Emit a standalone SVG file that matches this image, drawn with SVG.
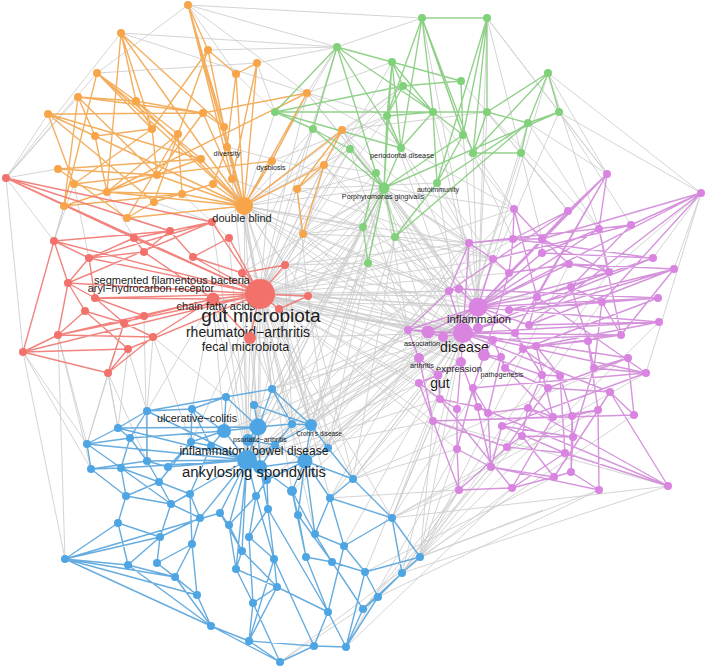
<svg xmlns="http://www.w3.org/2000/svg" width="708" height="669" viewBox="0 0 708 669">
<style>
.gr{fill:none;stroke:#cdcdcd;stroke-width:1;opacity:.85}
.eo{fill:none;stroke:#F2A64E;stroke-width:1.4;opacity:.9}
.er{fill:none;stroke:#EF7770;stroke-width:1.4;opacity:.9}
.eg{fill:none;stroke:#86CC7E;stroke-width:1.4;opacity:.9}
.ep{fill:none;stroke:#D088D8;stroke-width:1.4;opacity:.9}
.eb{fill:none;stroke:#55A3DC;stroke-width:1.4;opacity:.9}
.co circle{fill:#F7A548}
.cr circle{fill:#F2726B}
.cg circle{fill:#80D27A}
.cp circle{fill:#D884E0}
.cb circle{fill:#4DA5E3}
text{font-family:"Liberation Sans",Arial,sans-serif;fill:#1c1c1c;text-anchor:middle}
</style>
<rect width="708" height="669" fill="#ffffff"/>
<g id="connectors">
<path class="gr" d="M260 294L478 307M260 294L463 333M260 294L428 332M260 294L443 337M260 294L419 358M260 294L438 375M260 294L449 291M260 294L408 330M260 294L493 259M260 294L469 243M260 294L484 355M260 294L461 362M260 294L440 399M260 294L433 421M260 294L247 460M260 294L258 427M260 294L224 431M260 294L260 467M260 294L305 461M260 294L248 440M260 294L272 389M260 294L311 425M260 294L328 448M260 294L353 479M260 294L384 188M260 294L376 173M260 294L350 149M260 294L363 227M260 294L395 237M260 294L368 263M260 294L387 116M260 294L392 62M260 294L337 47M260 294L244 206M260 294L224 127M260 294L227 147M260 294L272 161M260 294L307 93M260 294L342 130M260 294L324 165M260 294L297 189M260 294L303 234M260 294L514 209M260 294L513 239M260 294L509 273M260 294L537 297M260 294L292 491M260 294L392 518M260 294L315 534M260 294L493 340M260 294L419 383M260 294L457 449M260 294L292 424M260 294L191 442
M463 333L247 460M463 333L258 427M463 333L305 461M463 333L311 425M463 333L328 448M463 333L353 479M463 333L330 498M463 333L392 518M463 333L292 491M463 333L267 480M463 333L344 546M463 333L384 188M463 333L395 237M463 333L368 263M463 333L437 183M463 333L528 123M463 333L521 153M463 333L559 112M463 333L244 206M463 333L324 165M463 333L342 130M463 333L303 234M463 333L213 299M463 333L242 273M463 333L250 338M463 333L285 265M463 333L308 296M463 333L279 309M463 333L420 557M463 333L365 572M463 333L272 389M463 333L224 431M463 333L292 424M463 333L402 573
M478 307L384 188M478 307L395 237M478 307L433 112M478 307L463 135M478 307L473 153M478 307L487 112M478 307L548 73M478 307L487 18M478 307L422 18M478 307L244 206M478 307L342 130M478 307L307 93M478 307L285 265M478 307L308 296M478 307L247 460M478 307L305 461M478 307L311 425M478 307L272 389M478 307L254 405M478 307L213 299M478 307L363 227M478 307L401 148
M247 460L384 188M247 460L363 227M247 460L368 263M247 460L428 332M247 460L419 358M247 460L438 375M247 460L449 291M247 460L408 330M247 460L469 243M247 460L244 206M247 460L213 299M247 460L242 273M247 460L212 222M247 460L229 238M247 460L440 399M247 460L433 421M247 460L324 165
M244 206L337 47M244 206L275 112M244 206L313 129M244 206L350 149M244 206L376 173M244 206L384 188M244 206L363 227M244 206L387 116M244 206L403 86M244 206L469 243M244 206L449 291M244 206L408 330M244 206L493 259M244 206L272 389M244 206L311 425M244 206L328 448M244 206L285 265M244 206L308 296M244 206L428 332M244 206L258 427
M384 188L469 243M384 188L493 259M384 188L449 291M384 188L459 289M384 188L408 330M384 188L428 332M384 188L509 273M384 188L514 209M384 188L272 389M384 188L292 424M384 188L311 425M384 188L328 448M384 188L308 296M384 188L285 265M384 188L279 309M384 188L307 93M384 188L342 130M384 188L258 427M384 188L305 461
M188 5L422 18M188 5L337 47M188 5L307 93M121 33L307 93M121 33L337 47M257 63L97 73M6 178L78 97M6 178L97 73M6 178L48 114M188 5L236 74M337 47L422 18M487 18L559 112M487 18L607 174M548 73L607 174M559 112L701 193M559 112L631 225M548 73L599 229M701 193L653 258M701 193L674 269M607 174L528 123M487 112L599 229M521 153L568 211M422 18L463 135M487 18L521 153M65 559L23 352M65 559L58 335M87 444L23 352M118 428L108 373M23 352L91 469M91 469L58 335M420 557L459 490M420 557L433 421M420 557L457 449M402 573L459 490M392 518L433 421M392 518L668 486M353 479L438 375M330 498L449 291M363 609L459 490M346 647L457 449M280 662L420 557M280 662L378 597M420 557L599 490M420 557L543 510M402 573L512 488M668 486L433 421M701 193L609 272M342 130L487 112M297 189L437 183M303 234L395 237M303 234L363 227M6 178L58 169M6 178L54 241M54 241L64 206M74 184L54 241M128 349L147 411M108 373L118 428M153 337L191 442M153 337L147 411M108 373L87 444M108 373L147 461M250 338L247 460M250 338L258 427M213 299L224 431M213 299L192 409M250 338L305 461M279 309L311 425M308 296L328 448M285 265L292 424M308 296L449 291M308 296L408 330M285 265L469 243M242 273L384 188M227 147L384 188M232 179L363 227M272 161L387 116M297 189L313 129M307 93L387 116M324 165L403 86M646 373L701 193
M433 421L392 518M457 449L353 479M459 490L392 518M459 490L330 498M440 399L353 479M419 383L328 448M419 358L305 461M408 330L311 425M449 291L292 424M469 243L305 461M493 259L328 448M509 273L353 479M537 297L392 518M514 209L311 425M513 239L272 389M542 253L305 461M569 264L420 557M609 272L402 573M602 302L420 557M659 322L420 557M634 415L420 557M668 486L402 573M599 490L378 597M554 477L365 572M512 488L346 647M491 467L363 609M507 447L402 573M522 436L420 557M598 410L392 518M646 373L392 518M628 358L353 479
M395 237L469 243M395 237L449 291M368 263L408 330M368 263L449 291M363 227L428 332M437 183L469 243M437 183L493 259M463 135L514 209M473 153L513 239M521 153L542 239M528 123L599 229M559 112L607 174M487 112L568 211M401 148L469 243M433 112L514 209M387 116L449 291M350 149L408 330M376 173L459 289M548 73L701 193M461 81L568 211
M307 93L337 47M257 63L337 47M307 93L392 62M342 130L403 86M324 165L376 173M303 234L384 188M297 189L350 149M236 74L275 112M257 63L275 112M208 50L337 47M97 73L188 5M121 33L6 178
M213 299L147 411M144 316L147 461M124 323L87 444M58 335L87 444M153 337L226 397M128 349L118 428M250 338L226 397M242 273L272 389M285 265L311 425M308 296L353 479M279 309L330 498M213 299L254 405M6 178L23 352
M64 206L54 241M127 218L170 231M154 202L212 222M244 206L212 222M303 234L285 265M297 189L308 296M74 184L89 258M107 192L134 238M182 194L229 238M232 179L242 273
M342 130L469 243M324 165L449 291M303 234L408 330M297 189L493 259M307 93L514 209M363 227L308 296M368 263L285 265M350 149L285 265M313 129L242 273M368 263L311 425M363 227L272 389M395 237L328 448M395 237L353 479"/>
<path class="eo" d="M188 5L208 50M188 5L224 127M188 5L244 206M188 5L227 147M188 5L232 179M208 50L236 74M208 50L154 202M208 50L224 127M257 63L236 74M257 63L232 179M257 63L244 206M236 74L244 206M236 74L227 147M121 33L136 101M121 33L152 129M121 33L107 192M121 33L224 127M121 33L244 206M97 73L152 129M97 73L201 159M97 73L244 206M78 97L136 101M78 97L64 206M78 97L157 175M78 97L203 113M78 97L95 136M136 101L203 113M136 101L178 134M136 101L244 206M136 101L152 129M48 114L203 113M48 114L201 159M48 114L154 202M48 114L244 206M48 114L74 184M203 113L307 93M203 113L224 127M203 113L244 206M224 127L244 206M152 129L157 175M152 129L95 136M152 129L74 184M178 134L107 192M178 134L127 218M95 136L107 192M342 130L324 165M342 130L244 206M227 147L244 206M201 159L244 206M201 159L107 192M272 161L244 206M272 161L74 184M307 93L244 206M307 93L107 192M58 169L157 175M58 169L201 159M58 169L127 218M157 175L244 206M157 175L64 206M157 175L203 113M324 165L297 189M324 165L303 234M324 165L244 206M232 179L244 206M74 184L107 192M213 184L244 206M213 184L154 202M107 192L182 194M107 192L244 206M182 194L244 206M182 194L178 134M297 189L303 234M154 202L127 218M127 218L244 206M64 206L97 73M342 130L297 189M307 93L272 161M213 184L227 147M208 50L152 129M97 73L136 101M64 206L182 194"/>
<path class="er" d="M6 178L170 231M6 178L212 222M6 178L260 294M6 178L134 238M212 222L68 283M212 222L89 258M212 222L260 294M212 222L170 231M170 231L134 238M170 231L144 252M170 231L193 257M170 231L54 241M54 241L89 258M54 241L68 283M54 241L260 294M54 241L23 352M134 238L144 252M134 238L260 294M134 238L89 258M229 238L260 294M229 238L193 257M144 252L89 258M144 252L213 299M193 257L260 294M193 257L242 273M89 258L68 283M89 258L95 298M89 258L260 294M285 265L260 294M285 265L242 273M242 273L260 294M68 283L85 311M68 283L58 335M68 283L95 298M260 294L213 299M260 294L308 296M260 294L279 309M260 294L250 338M260 294L95 298M260 294L58 335M260 294L128 349M213 299L95 298M213 299L144 316M213 299L153 337M95 298L144 316M95 298L124 323M85 311L124 323M85 311L58 335M85 311L128 349M144 316L124 323M124 323L153 337M124 323L108 373M153 337L58 335M153 337L108 373M58 335L23 352M23 352L128 349M23 352L108 373M128 349L108 373M250 338L213 299M279 309L308 296M23 352L260 294M58 335L213 299M68 283L260 294"/>
<path class="eg" d="M422 18L487 18M422 18L433 112M422 18L387 116M422 18L401 148M422 18L463 135M422 18L473 153M487 18L463 135M487 18L487 112M487 18L473 153M487 18L437 183M337 47L392 62M337 47L275 112M337 47L313 129M337 47L401 148M337 47L376 173M337 47L433 112M392 62L461 81M392 62L403 86M392 62L387 116M392 62L401 148M392 62L384 188M392 62L433 112M548 73L559 112M548 73L528 123M548 73L487 112M548 73L473 153M461 81L463 135M461 81L403 86M403 86L275 112M403 86L387 116M403 86L433 112M275 112L313 129M275 112L433 112M433 112L487 112M433 112L463 135M433 112L401 148M433 112L387 116M487 112L528 123M487 112L473 153M559 112L528 123M559 112L384 188M387 116L384 188M387 116L401 148M313 129L350 149M313 129L384 188M528 123L521 153M528 123L437 183M463 135L437 183M463 135L384 188M350 149L384 188M401 148L384 188M473 153L521 153M376 173L384 188M384 188L363 227M384 188L395 237M384 188L368 263M376 173L363 227M437 183L395 237M395 237L528 123M363 227L368 263M275 112L401 148M433 112L437 183"/>
<path class="ep" d="M607 174L568 211M607 174L509 273M607 174L537 297M607 174L515 333M607 174L478 307M607 174L599 229M701 193L631 225M701 193L542 239M701 193L478 307M701 193L529 325M701 193L602 302M514 209L542 239M514 209L537 297M514 209L513 239M568 211L513 239M568 211L478 307M568 211L449 291M599 229L609 272M599 229L542 253M599 229L621 335M599 229L478 307M631 225L493 259M631 225L469 243M631 225L571 287M469 243L513 239M469 243L493 259M469 243L449 291M469 243L463 333M513 239L542 239M513 239L509 273M513 239L653 258M542 239L542 253M542 239L609 272M542 239L569 264M542 253L653 258M542 253L478 307M493 259L509 273M493 259L478 307M509 273L569 264M509 273L484 355M569 264L609 272M569 264L674 269M569 264L478 307M653 258L537 297M653 258L478 328M609 272L571 287M609 272L478 307M674 269L509 310M674 269L529 325M674 269L463 333M674 269L621 335M449 291L459 289M449 291L408 330M449 291L463 333M459 289L478 307M459 289L658 298M571 287L602 302M571 287L537 297M571 287L588 341M537 297L478 307M537 297L529 325M537 297L646 373M658 298L509 310M658 298L523 349M658 298L478 307M602 302L621 335M602 302L594 368M602 302L509 310M478 307L463 333M478 307L509 310M478 307L659 322M478 307L478 328M478 307L529 325M478 307L515 333M659 322L529 325M659 322L463 333M659 322L536 346M408 330L428 332M408 330L463 333M408 330L419 358M428 332L463 333M428 332L443 337M443 337L463 333M463 333L478 328M463 333L515 333M463 333L493 340M463 333L484 355M463 333L461 362M463 333L621 335M463 333L628 358M463 333L646 373M463 333L610 392M515 333L523 349M515 333L542 375M621 335L493 340M621 335L523 349M493 340L505 368M493 340L484 355M588 341L536 346M588 341L594 368M588 341L598 410M484 355L542 375M484 355L473 388M484 355L501 357M523 349L505 368M523 349L560 376M536 346L560 376M536 346L553 417M501 357L488 413M501 357L505 368M628 358L634 415M628 358L594 368M628 358L548 388M419 358L438 375M419 358L433 421M461 362L438 375M461 362L457 409M461 362L478 407M505 368L548 388M505 368L553 417M594 368L646 373M594 368L573 437M646 373L473 388M646 373L502 426M542 375L560 376M542 375L528 408M560 376L572 416M560 376L565 453M438 375L419 383M438 375L440 399M419 383L440 399M419 383L433 421M473 388L488 413M473 388L491 467M548 388L610 392M548 388L507 447M610 392L634 415M610 392L554 477M440 399L457 409M440 399L478 407M440 399L512 488M457 409L457 449M433 421L634 415M478 407L488 413M478 407L668 486M488 413L528 408M488 413L491 467M528 408L553 417M528 408L522 436M553 417L598 410M553 417L512 488M572 416L598 410M572 416L573 437M572 416L571 472M598 410L599 490M433 421L507 447M433 421L459 490M433 421L553 417M502 426L573 437M502 426L491 467M502 426L565 453M573 437L522 436M573 437L571 472M522 436L507 447M522 436L554 477M507 447L565 453M507 447L459 490M565 453L668 486M565 453L512 488M457 449L491 467M457 449L459 490M457 449L473 388M491 467L554 477M491 467L599 490M554 477L571 472M554 477L512 488M571 472L599 490M668 486L610 392M668 486L528 408M459 490L512 488M408 330L478 307M428 332L478 307M443 337L478 307"/>
<path class="eb" d="M272 389L226 397M272 389L292 424M272 389L247 460M272 389L311 425M226 397L147 411M226 397L224 431M226 397L258 427M226 397L192 409M254 405L258 427M254 405L311 425M147 411L192 409M147 411L118 428M147 411L130 438M147 411L147 461M147 411L247 460M192 409L224 431M192 409L211 446M192 409L191 442M118 428L130 438M118 428L87 444M118 428L258 427M118 428L247 460M224 431L258 427M224 431L191 442M224 431L247 460M224 431L211 446M258 427L292 424M258 427L248 440M258 427L247 460M258 427L260 467M292 424L311 425M292 424L275 445M311 425L328 448M311 425L247 460M311 425L305 461M130 438L147 461M130 438L224 431M130 438L121 468M191 442L211 446M191 442L168 467M191 442L159 482M211 446L247 460M211 446L190 494M87 444L91 469M87 444L121 468M87 444L247 460M87 444L130 438M248 440L247 460M248 440L275 445M275 445L305 461M275 445L260 467M328 448L305 461M328 448L353 479M247 460L260 467M247 460L147 461M247 460L168 467M247 460L267 480M247 460L256 496M247 460L121 468M247 460L171 504M247 460L220 513M247 460L200 518M247 460L229 525M247 460L242 551M247 460L236 569M260 467L305 461M260 467L292 491M260 467L268 509M305 461L267 480M305 461L292 491M305 461L298 515M305 461L330 498M305 461L315 534M305 461L353 479M147 461L168 467M147 461L159 482M147 461L91 469M91 469L121 468M91 469L126 496M121 468L159 482M121 468L126 496M121 468L171 504M159 482L126 496M159 482L171 504M159 482L190 494M267 480L256 496M267 480L268 509M353 479L330 498M353 479L392 518M126 496L118 523M126 496L171 504M190 494L171 504M190 494L200 518M190 494L192 544M256 496L229 525M256 496L249 537M256 496L274 559M292 491L298 515M292 491L315 534M292 491L306 557M330 498L315 534M330 498L392 518M330 498L344 546M171 504L160 537M171 504L200 518M268 509L249 537M268 509L274 559M220 513L229 525M220 513L242 551M200 518L160 537M200 518L192 544M298 515L306 557M298 515L332 562M392 518L344 546M392 518L420 557M392 518L402 573M118 523L160 537M118 523L65 559M118 523L128 565M229 525L242 551M229 525L236 569M249 537L274 559M249 537L253 603M315 534L344 546M315 534L332 562M160 537L128 565M160 537L157 563M192 544L157 563M192 544L175 577M192 544L197 595M344 546L365 572M344 546L328 612M242 551L236 569M242 551L277 587M65 559L128 565M65 559L197 595M65 559L211 626M65 559L175 577M65 559L160 537M274 559L277 587M274 559L249 641M306 557L332 562M306 557L328 612M420 557L365 572M420 557L402 573M128 565L175 577M128 565L211 626M157 563L175 577M157 563L197 595M236 569L253 603M236 569L277 587M332 562L365 572M332 562L363 609M365 572L378 597M365 572L346 647M402 573L378 597M402 573L363 609M175 577L197 595M175 577L211 626M277 587L253 603M277 587L249 641M277 587L328 612M197 595L211 626M378 597L363 609M378 597L346 647M253 603L249 641M253 603L280 662M328 612L314 646M328 612L346 647M363 609L346 647M211 626L249 641M211 626L280 662M249 641L314 646M249 641L280 662M314 646L280 662M314 646L346 647M274 559L314 646M268 509L328 612M65 559L220 513"/>
</g>
<g id="nodes">
<g class="co">
<g id="o1"><circle cx="188" cy="5" r="4"/></g><g id="o2"><circle cx="121" cy="33" r="4"/></g><g id="o3"><circle cx="208" cy="50" r="4"/></g><g id="o4"><circle cx="257" cy="63" r="4"/></g><g id="o5"><circle cx="236" cy="74" r="4"/></g><g id="o6"><circle cx="97" cy="73" r="4"/></g><g id="o7"><circle cx="78" cy="97" r="4"/></g><g id="o8"><circle cx="136" cy="101" r="4"/></g><g id="o9"><circle cx="307" cy="93" r="4"/></g><g id="o10"><circle cx="48" cy="114" r="4"/></g><g id="o11"><circle cx="203" cy="113" r="4"/></g><g id="o12"><circle cx="224" cy="127" r="4"/></g><g id="o13"><circle cx="152" cy="129" r="4"/></g><g id="o14"><circle cx="178" cy="134" r="4"/></g><g id="o15"><circle cx="95" cy="136" r="4"/></g><g id="o16"><circle cx="342" cy="130" r="4"/></g><g id="o18"><circle cx="201" cy="159" r="4"/></g><g id="o20"><circle cx="58" cy="169" r="4"/></g><g id="o21"><circle cx="157" cy="175" r="4"/></g><g id="o22"><circle cx="324" cy="165" r="4"/></g><g id="o23"><circle cx="232" cy="179" r="4"/></g><g id="o24"><circle cx="74" cy="184" r="4"/></g><g id="o25"><circle cx="213" cy="184" r="4"/></g><g id="o26"><circle cx="107" cy="192" r="4"/></g><g id="o27"><circle cx="182" cy="194" r="4"/></g><g id="o28"><circle cx="297" cy="189" r="4"/></g><g id="o29"><circle cx="154" cy="202" r="4"/></g><g id="o30"><circle cx="64" cy="206" r="4"/></g><g id="o32"><circle cx="127" cy="218" r="4"/></g><g id="o33"><circle cx="303" cy="234" r="4"/></g>
</g>
<g class="cg">
<g id="g1"><circle cx="422" cy="18" r="4"/></g><g id="g2"><circle cx="487" cy="18" r="4"/></g><g id="g3"><circle cx="337" cy="47" r="4"/></g><g id="g4"><circle cx="392" cy="62" r="4"/></g><g id="g5"><circle cx="548" cy="73" r="4"/></g><g id="g6"><circle cx="461" cy="81" r="4"/></g><g id="g7"><circle cx="403" cy="86" r="4"/></g><g id="g8"><circle cx="275" cy="112" r="4"/></g><g id="g9"><circle cx="433" cy="112" r="4"/></g><g id="g10"><circle cx="487" cy="112" r="4"/></g><g id="g11"><circle cx="559" cy="112" r="4"/></g><g id="g12"><circle cx="387" cy="116" r="4"/></g><g id="g13"><circle cx="313" cy="129" r="4"/></g><g id="g14"><circle cx="528" cy="123" r="4"/></g><g id="g15"><circle cx="463" cy="135" r="4"/></g><g id="g16"><circle cx="350" cy="149" r="4"/></g><g id="g18"><circle cx="473" cy="153" r="4"/></g><g id="g19"><circle cx="521" cy="153" r="4"/></g><g id="g20"><circle cx="376" cy="173" r="4"/></g><g id="g23"><circle cx="363" cy="227" r="4"/></g><g id="g24"><circle cx="395" cy="237" r="4"/></g><g id="g25"><circle cx="368" cy="263" r="4"/></g>
</g>
<g class="cr">
<g id="r1"><circle cx="6" cy="178" r="4"/></g><g id="r2"><circle cx="212" cy="222" r="4"/></g><g id="r3"><circle cx="170" cy="231" r="4"/></g><g id="r4"><circle cx="54" cy="241" r="4"/></g><g id="r5"><circle cx="134" cy="238" r="4"/></g><g id="r6"><circle cx="229" cy="238" r="4"/></g><g id="r7"><circle cx="144" cy="252" r="4"/></g><g id="r9"><circle cx="89" cy="258" r="4"/></g><g id="r10"><circle cx="285" cy="265" r="4"/></g><g id="r11"><circle cx="242" cy="273" r="4"/></g><g id="r12"><circle cx="68" cy="283" r="4"/></g><g id="r15"><circle cx="308" cy="296" r="4"/></g><g id="r17"><circle cx="85" cy="311" r="4"/></g><g id="r18"><circle cx="144" cy="316" r="4"/></g><g id="r19"><circle cx="124" cy="323" r="4"/></g><g id="r21"><circle cx="153" cy="337" r="4"/></g><g id="r22"><circle cx="58" cy="335" r="4"/></g><g id="r23"><circle cx="23" cy="352" r="4"/></g><g id="r24"><circle cx="128" cy="349" r="4"/></g><g id="r25"><circle cx="108" cy="373" r="4"/></g>
</g>
<g class="cp">
<g id="p1"><circle cx="607" cy="174" r="4"/></g><g id="p2"><circle cx="701" cy="193" r="4"/></g><g id="p3"><circle cx="514" cy="209" r="4"/></g><g id="p4"><circle cx="568" cy="211" r="4"/></g><g id="p5"><circle cx="599" cy="229" r="4"/></g><g id="p6"><circle cx="631" cy="225" r="4"/></g><g id="p7"><circle cx="469" cy="243" r="4"/></g><g id="p8"><circle cx="513" cy="239" r="4"/></g><g id="p9"><circle cx="542" cy="239" r="4"/></g><g id="p10"><circle cx="542" cy="253" r="4"/></g><g id="p11"><circle cx="493" cy="259" r="4"/></g><g id="p12"><circle cx="509" cy="273" r="4"/></g><g id="p13"><circle cx="569" cy="264" r="4"/></g><g id="p14"><circle cx="653" cy="258" r="4"/></g><g id="p15"><circle cx="609" cy="272" r="4"/></g><g id="p16"><circle cx="674" cy="269" r="4"/></g><g id="p17"><circle cx="449" cy="291" r="4"/></g><g id="p18"><circle cx="459" cy="289" r="4"/></g><g id="p19"><circle cx="571" cy="287" r="4"/></g><g id="p20"><circle cx="537" cy="297" r="4"/></g><g id="p21"><circle cx="658" cy="298" r="4"/></g><g id="p22"><circle cx="602" cy="302" r="4"/></g><g id="p24"><circle cx="509" cy="310" r="4"/></g><g id="p25"><circle cx="659" cy="322" r="4"/></g><g id="p26"><circle cx="529" cy="325" r="4"/></g><g id="p27"><circle cx="408" cy="330" r="4"/></g><g id="p29"><circle cx="443" cy="337" r="5"/></g><g id="p31"><circle cx="478" cy="328" r="5"/></g><g id="p32"><circle cx="515" cy="333" r="4"/></g><g id="p33"><circle cx="621" cy="335" r="4"/></g><g id="p34"><circle cx="493" cy="340" r="4"/></g><g id="p35"><circle cx="588" cy="341" r="4"/></g><g id="p37"><circle cx="523" cy="349" r="4"/></g><g id="p38"><circle cx="536" cy="346" r="4"/></g><g id="p39"><circle cx="501" cy="357" r="4"/></g><g id="p40"><circle cx="628" cy="358" r="4"/></g><g id="p43"><circle cx="505" cy="368" r="4"/></g><g id="p44"><circle cx="594" cy="368" r="4"/></g><g id="p45"><circle cx="646" cy="373" r="4"/></g><g id="p46"><circle cx="542" cy="375" r="4"/></g><g id="p47"><circle cx="560" cy="376" r="4"/></g><g id="p49"><circle cx="419" cy="383" r="4"/></g><g id="p50"><circle cx="473" cy="388" r="4"/></g><g id="p51"><circle cx="548" cy="388" r="4"/></g><g id="p52"><circle cx="610" cy="392" r="4"/></g><g id="p53"><circle cx="440" cy="399" r="4"/></g><g id="p54"><circle cx="457" cy="409" r="4"/></g><g id="p55"><circle cx="478" cy="407" r="4"/></g><g id="p56"><circle cx="488" cy="413" r="4"/></g><g id="p57"><circle cx="528" cy="408" r="4"/></g><g id="p58"><circle cx="553" cy="417" r="4"/></g><g id="p59"><circle cx="572" cy="416" r="4"/></g><g id="p60"><circle cx="598" cy="410" r="4"/></g><g id="p61"><circle cx="634" cy="415" r="4"/></g><g id="p62"><circle cx="433" cy="421" r="4"/></g><g id="p63"><circle cx="502" cy="426" r="4"/></g><g id="p64"><circle cx="573" cy="437" r="4"/></g><g id="p65"><circle cx="522" cy="436" r="4"/></g><g id="p66"><circle cx="507" cy="447" r="4"/></g><g id="p67"><circle cx="565" cy="453" r="4"/></g><g id="p68"><circle cx="457" cy="449" r="4"/></g><g id="p69"><circle cx="491" cy="467" r="4"/></g><g id="p70"><circle cx="554" cy="477" r="4"/></g><g id="p71"><circle cx="571" cy="472" r="4"/></g><g id="p72"><circle cx="668" cy="486" r="4"/></g><g id="p73"><circle cx="459" cy="490" r="4"/></g><g id="p74"><circle cx="512" cy="488" r="4"/></g><g id="p75"><circle cx="599" cy="490" r="4"/></g>
</g>
<g class="cb">
<g id="b1"><circle cx="272" cy="389" r="4"/></g><g id="b2"><circle cx="226" cy="397" r="4"/></g><g id="b3"><circle cx="254" cy="405" r="4"/></g><g id="b4"><circle cx="147" cy="411" r="4"/></g><g id="b5"><circle cx="192" cy="409" r="4"/></g><g id="b6"><circle cx="118" cy="428" r="4"/></g><g id="b9"><circle cx="292" cy="424" r="4"/></g><g id="b11"><circle cx="130" cy="438" r="4"/></g><g id="b12"><circle cx="191" cy="442" r="4"/></g><g id="b13"><circle cx="211" cy="446" r="4"/></g><g id="b14"><circle cx="87" cy="444" r="4"/></g><g id="b16"><circle cx="275" cy="445" r="4"/></g><g id="b17"><circle cx="328" cy="448" r="4"/></g><g id="b19"><circle cx="260" cy="467" r="7"/></g><g id="b20"><circle cx="305" cy="461" r="7.5"/></g><g id="b21"><circle cx="147" cy="461" r="4"/></g><g id="b22"><circle cx="168" cy="467" r="4"/></g><g id="b23"><circle cx="91" cy="469" r="4"/></g><g id="b24"><circle cx="121" cy="468" r="4"/></g><g id="b25"><circle cx="159" cy="482" r="4"/></g><g id="b26"><circle cx="267" cy="480" r="4"/></g><g id="b27"><circle cx="353" cy="479" r="4"/></g><g id="b28"><circle cx="126" cy="496" r="4"/></g><g id="b29"><circle cx="190" cy="494" r="4"/></g><g id="b30"><circle cx="256" cy="496" r="4"/></g><g id="b31"><circle cx="292" cy="491" r="5"/></g><g id="b32"><circle cx="330" cy="498" r="4"/></g><g id="b33"><circle cx="171" cy="504" r="4"/></g><g id="b34"><circle cx="268" cy="509" r="4"/></g><g id="b35"><circle cx="220" cy="513" r="4"/></g><g id="b36"><circle cx="200" cy="518" r="4"/></g><g id="b37"><circle cx="298" cy="515" r="4"/></g><g id="b38"><circle cx="392" cy="518" r="4"/></g><g id="b39"><circle cx="118" cy="523" r="4"/></g><g id="b40"><circle cx="229" cy="525" r="4"/></g><g id="b41"><circle cx="249" cy="537" r="4"/></g><g id="b42"><circle cx="315" cy="534" r="4"/></g><g id="b43"><circle cx="160" cy="537" r="4"/></g><g id="b44"><circle cx="192" cy="544" r="4"/></g><g id="b45"><circle cx="344" cy="546" r="4"/></g><g id="b46"><circle cx="242" cy="551" r="4"/></g><g id="b47"><circle cx="65" cy="559" r="4"/></g><g id="b48"><circle cx="274" cy="559" r="4"/></g><g id="b49"><circle cx="306" cy="557" r="4"/></g><g id="b50"><circle cx="420" cy="557" r="4"/></g><g id="b51"><circle cx="128" cy="565" r="4"/></g><g id="b52"><circle cx="157" cy="563" r="4"/></g><g id="b53"><circle cx="236" cy="569" r="4"/></g><g id="b54"><circle cx="332" cy="562" r="4"/></g><g id="b55"><circle cx="365" cy="572" r="4"/></g><g id="b56"><circle cx="402" cy="573" r="4"/></g><g id="b57"><circle cx="175" cy="577" r="4"/></g><g id="b58"><circle cx="277" cy="587" r="4"/></g><g id="b59"><circle cx="197" cy="595" r="4"/></g><g id="b60"><circle cx="378" cy="597" r="4"/></g><g id="b61"><circle cx="253" cy="603" r="4"/></g><g id="b62"><circle cx="328" cy="612" r="4"/></g><g id="b63"><circle cx="363" cy="609" r="4"/></g><g id="b64"><circle cx="211" cy="626" r="4"/></g><g id="b65"><circle cx="249" cy="641" r="4"/></g><g id="b66"><circle cx="314" cy="646" r="4"/></g><g id="b67"><circle cx="346" cy="647" r="4"/></g><g id="b68"><circle cx="280" cy="662" r="4"/></g>
</g>
<g class="co">
<g id="diversity"><circle cx="227" cy="147" r="4"/><text x="227" y="156" font-size="7.3">diversity</text></g>
<g id="dysbiosis"><circle cx="272" cy="161" r="4"/><text x="271" y="170" font-size="7.1">dysbiosis</text></g>
<g id="double-blind"><circle cx="244" cy="206" r="9"/><text x="242" y="222" font-size="11">double blind</text></g>
</g>
<g class="cg">
<g id="periodontal-disease"><circle cx="401" cy="148" r="4"/><text x="402" y="158" font-size="7.4">periodontal disease</text></g>
<g id="autoimmunity"><circle cx="437" cy="183" r="4"/><text x="438" y="192" font-size="7.1">autoimmunity</text></g>
<g id="porphyromonas-gingivalis"><circle cx="384" cy="188" r="5.5"/><text x="383" y="199" font-size="7.2">Porphyromonas gingivalis</text></g>
</g>
<g class="cr">
<g id="segmented-filamentous-bacteria"><circle cx="193" cy="257" r="4"/><text x="172" y="284" font-size="11">segmented filamentous bacteria</text></g>
<g id="aryl-hydrocarbon-receptor"><circle cx="95" cy="298" r="4"/><text x="151" y="292" font-size="10.8">aryl−hydrocarbon receptor</text></g>
<g id="chain-fatty-acids"><circle cx="213" cy="299" r="6.5"/><text x="216" y="310" font-size="11">chain fatty acids</text></g>
<g id="gut-microbiota"><circle cx="260" cy="294" r="15"/><text x="261" y="322" font-size="19">gut microbiota</text></g>
<g id="rheumatoid-arthritis"><circle cx="279" cy="309" r="4"/><text x="248" y="337" font-size="14">rheumatoid−arthritis</text></g>
<g id="fecal-microbiota"><circle cx="250" cy="338" r="6"/><text x="245.5" y="351" font-size="12.5">fecal microbiota</text></g>
</g>
<g class="cp">
<g id="inflammation"><circle cx="478" cy="307" r="9.5"/><text x="479" y="323" font-size="11.3">inflammation</text></g>
<g id="association"><circle cx="428" cy="332" r="6.5"/><text x="422" y="346" font-size="7.2">association</text></g>
<g id="disease"><circle cx="463" cy="333" r="10"/><text x="464.5" y="352" font-size="14.2">disease</text></g>
<g id="arthritis"><circle cx="419" cy="358" r="5"/><text x="422" y="368" font-size="7.3">arthritis</text></g>
<g id="expression"><circle cx="461" cy="362" r="5"/><text x="459" y="372" font-size="9.5">expression</text></g>
<g id="pathogenesis"><circle cx="484" cy="355" r="6"/><text x="502" y="377" font-size="7.2">pathogenesis</text></g>
<g id="gut"><circle cx="438" cy="375" r="4.5"/><text x="440" y="388" font-size="14">gut</text></g>
</g>
<g class="cb">
<g id="ulcerative-colitis"><circle cx="224" cy="431" r="7"/><text x="197" y="422" font-size="10.9">ulcerative−colitis</text></g>
<g id="crohns-disease"><circle cx="311" cy="425" r="6"/><text x="319" y="436" font-size="6.4">Crohn's disease</text></g>
<g id="psoriatic-arthritis"><circle cx="248" cy="440" r="6"/><text x="260" y="442" font-size="7.1">psoriatic−arthritis</text></g>
<g id="inflammatory-bowel-disease"><circle cx="258" cy="427" r="8.5"/><text x="254" y="455" font-size="12.1">inflammatory bowel disease</text></g>
<g id="ankylosing-spondylitis"><circle cx="247" cy="460" r="10"/><text x="254" y="477" font-size="14.9">ankylosing spondylitis</text></g>
</g>
</g>
</svg>
